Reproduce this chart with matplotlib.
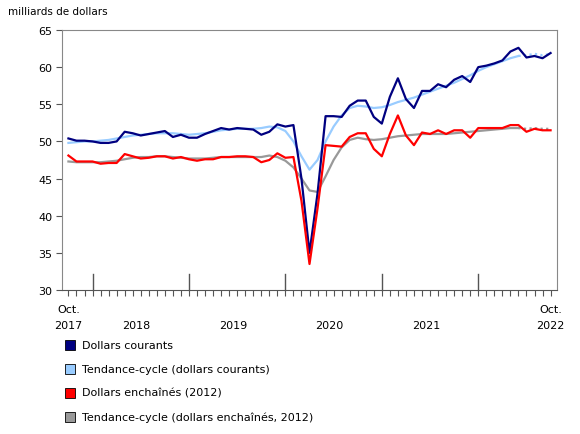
import matplotlib

matplotlib.use("Agg")
import matplotlib.pyplot as plt
import numpy as np
from matplotlib.patches import Rectangle

# monthly, Oct 2017 .. Oct 2022
current = [50.4, 50.1, 50.1, 50.0, 49.8, 49.8, 50.0, 51.3, 51.1, 50.8, 51.0, 51.2, 51.4,
           50.6, 50.9, 50.5, 50.5, 51.0, 51.4, 51.8, 51.6, 51.8, 51.7, 51.6, 50.9, 51.3,
           52.3, 52.0, 52.2, 45.0, 35.0, 43.0, 53.4, 53.4, 53.3, 54.8, 55.5, 55.5, 53.3,
           52.4, 56.0, 58.5, 55.7, 54.5, 56.8, 56.8, 57.7, 57.3, 58.3, 58.8, 58.0, 60.0,
           60.2, 60.5, 60.9, 62.1, 62.6, 61.3, 61.5, 61.2, 61.9]
trend_current = [49.8, 49.9, 50.0, 50.0, 50.1, 50.2, 50.4, 50.6, 50.8, 50.9, 51.0, 51.1,
                 51.1, 51.1, 51.0, 50.9, 51.0, 51.1, 51.3, 51.5, 51.6, 51.7, 51.7, 51.7,
                 51.8, 52.0, 51.9, 51.4, 50.0, 48.0, 46.2, 47.5, 50.0, 52.0, 53.5, 54.5,
                 54.8, 54.7, 54.5, 54.6, 54.9, 55.3, 55.6, 55.9, 56.3, 56.7, 57.1, 57.5,
                 57.9, 58.4, 58.9, 59.5, 60.0, 60.4, 60.8, 61.2, 61.5, 61.6, 61.8, 61.6, 61.8]
chained = [48.1, 47.3, 47.3, 47.3, 47.0, 47.1, 47.1, 48.3, 48.0, 47.7, 47.8, 48.0, 48.0,
           47.7, 47.9, 47.6, 47.4, 47.6, 47.6, 47.9, 47.9, 48.0, 48.0, 47.9, 47.2, 47.5,
           48.4, 47.8, 47.9, 42.0, 33.5, 41.0, 49.5, 49.4, 49.3, 50.6, 51.1, 51.1, 49.0,
           48.0, 51.0, 53.5, 50.8, 49.5, 51.2, 51.0, 51.5, 51.0, 51.5, 51.5, 50.5, 51.8,
           51.8, 51.8, 51.8, 52.2, 52.2, 51.3, 51.7, 51.5, 51.5]
trend_chained = [47.3, 47.2, 47.2, 47.2, 47.2, 47.3, 47.4, 47.6, 47.8, 47.9, 47.9, 48.0,
                 48.0, 47.9, 47.8, 47.7, 47.7, 47.7, 47.8, 47.9, 47.9, 47.9, 47.9, 47.9,
                 47.9, 48.1, 47.9, 47.4, 46.5, 45.0, 43.4, 43.2, 45.3, 47.5, 49.2, 50.2,
                 50.5, 50.3, 50.2, 50.3, 50.5, 50.7, 50.8, 50.9, 51.0, 51.0, 51.0, 51.0,
                 51.1, 51.2, 51.3, 51.4, 51.5, 51.6, 51.7, 51.8, 51.8, 51.7, 51.8, 51.7, 51.7]
years = ["2017", "2018", "2019", "2020", "2021", "2022"]
labels = ["Dollars courants", "Tendance-cycle (dollars courants)",
          "Dollars enchaînés (2012)", "Tendance-cycle (dollars enchaînés, 2012)"]
colors = ["#000080", "#99ccff", "#ff0000", "#999999"]

plt.rcParams["font.family"] = ["Verdana", "DejaVu Sans"]
fig = plt.figure(figsize=(5.8, 4.35), dpi=100)
ax = fig.add_axes([62 / 580, 1 - 291 / 435, 495 / 580, 260 / 435])
x = np.arange(len(current))
split = 57  # last months of trend-cycle shown dotted

for series, c in [(trend_current, colors[1]), (trend_chained, colors[3])]:
    ax.plot(x[:split], series[:split], color=c, lw=1.6, zorder=2)
    ax.plot(x[split - 1:], series[split - 1:], color=c, lw=1.6, ls=(0, (1, 1.5)), zorder=2)
ax.plot(x, current, color=colors[0], lw=1.6, zorder=3)
ax.plot(x, chained, color=colors[2], lw=1.6, zorder=3)

ax.set_xlim(-0.8, 60.8)
ax.set_ylim(30, 65)
ax.set_yticks(range(30, 66, 5))
ax.tick_params(axis="y", length=4, color="#555555", labelsize=8, pad=3)
for s in ax.spines.values():
    s.set_color("#888888")
ax.spines["bottom"].set_color("#555555")
ax.set_xticks(x)
ax.set_xticklabels([])
ax.tick_params(axis="x", length=4, color="#555555")
for m in range(3, 61, 12):
    ax.plot([m, m], [30, 32.2], color="#555555", lw=1, clip_on=False)
centers = [0] + [8.5 + 12 * i for i in range(4)] + [60]
for i, (cx, yr) in enumerate(zip(centers, years)):
    if i in (0, 5):
        ax.text(cx, -0.055, "Oct.", transform=ax.get_xaxis_transform(), ha="center", va="top", fontsize=8)
    ax.text(cx, -0.115, yr, transform=ax.get_xaxis_transform(), ha="center", va="top", fontsize=8)
fig.text(8 / 580, 1 - 12 / 435, "milliards de dollars", fontsize=7.5, va="center")

for i, (lab, c) in enumerate(zip(labels, colors)):
    yc = 1 - (346 + 24 * i) / 435
    fig.patches.append(Rectangle((65 / 580, yc - 5 / 435), 10 / 580, 10 / 435,
                                 facecolor=c, edgecolor="black", lw=0.6,
                                 transform=fig.transFigure))
    fig.text(82 / 580, yc, lab, fontsize=8, va="center")

fig.savefig("out.png", dpi=100)
